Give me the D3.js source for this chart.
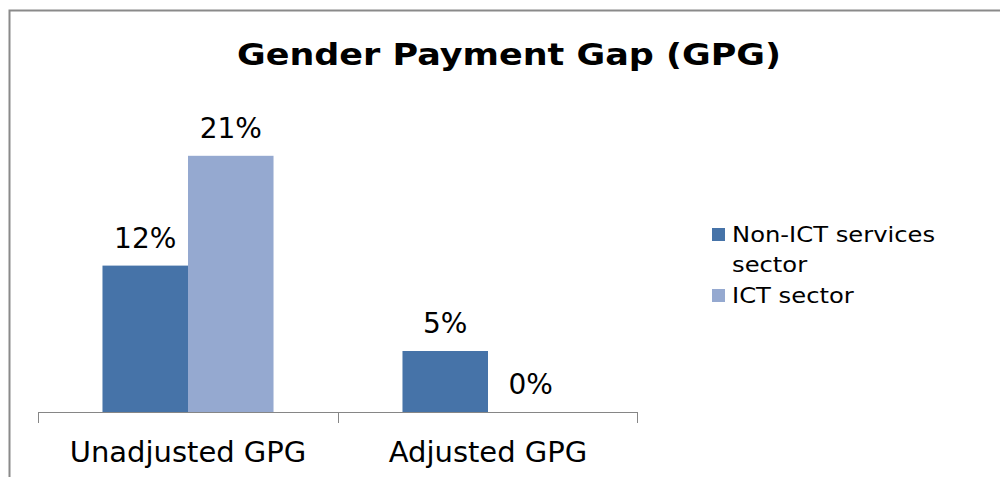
<!DOCTYPE html>
<html>
<head>
<meta charset="utf-8">
<script src="https://cdn.jsdelivr.net/npm/d3@7"></script>
<style>
    html, body { margin: 0; padding: 0; background: #fff; }
    svg { display: block; }
</style>
</head>
<body>
<svg id="viz_gpg"></svg>
<script>
var categories = ["Unadjusted GPG", "Adjusted GPG"];
var series = ["Non-ICT services sector", "ICT sector"];
var non_ict = [12, 5];
var ict = [21, 0];
var legend_lines = [["Non-ICT services", "sector"], ["ICT sector"]];

var width = 1000,
    height = 477,
    blue = "#4673a8",
    light = "#95a9d0",
    colors = [blue, light];

var rows = categories.map(function(c, i) {
    return {"category": c, "values": [non_ict[i], ict[i]]};
});

var svg = d3.select("svg#viz_gpg")
    .attr("width", width)
    .attr("height", height);

// frame (only top and left edges are in the picture)
svg.append("path")
    .attr("d", "M9.5 " + height + " L9.5 10.5 L" + width + " 10.5")
    .attr("fill", "none")
    .attr("stroke", "#8a8a8a")
    .attr("stroke-width", 2);

// title is drawn a little wider than the font, like the original
svg.append("text")
    .attr("x", 509)
    .attr("y", 65)
    .attr("text-anchor", "middle")
    .attr("textLength", 544)
    .attr("lengthAdjust", "spacingAndGlyphs")
    .style("font-family", "'DejaVu Sans', sans-serif")
    .style("font-weight", "bold")
    .style("font-size", "31px")
    .text("Gender Payment Gap (GPG)");

var x0 = d3.scaleBand()
    .domain(categories)
    .range([38, 638])
    .paddingInner(0)
    .paddingOuter(0);

var x1 = d3.scaleBand()
    .domain(series)
    .range([0, x0.bandwidth()])
    .paddingInner(0)
    .paddingOuter(0.754);

var y = d3.scaleLinear()
    .domain([0, 25])
    .range([412, 107]);

var group = svg.selectAll("g.category")
    .data(rows)
    .enter()
    .append("g")
        .attr("class", "category")
        .attr("transform", function(d) {
            return "translate(" + [x0(d.category), 0] + ")";
        });

var bar = group.selectAll("g.bar")
    .data(function(d) {
        return d.values.map(function(v, i) {
            return {"series": series[i], "value": v, "color": colors[i]};
        });
    })
    .enter()
    .append("g")
        .attr("class", "bar");

bar.append("rect")
    .attr("x", function(d) { return x1(d.series); })
    .attr("y", function(d) { return y(d.value); })
    .attr("width", x1.bandwidth())
    .attr("height", function(d) { return y(0) - y(d.value); })
    .attr("fill", function(d) { return d.color; });

bar.append("text")
    .attr("x", function(d) { return x1(d.series) + x1.bandwidth() / 2; })
    .attr("y", function(d) { return y(d.value) - 18; })
    .attr("text-anchor", "middle")
    .style("font-family", "'DejaVu Sans', sans-serif")
    .style("font-size", "28px")
    .style("fill", "#000")
    .text(function(d) { return d.value + "%"; });

// category axis
var axis = svg.append("g")
    .attr("transform", "translate(0," + y(0) + ")");

axis.append("line")
    .attr("x1", 38).attr("x2", 638)
    .attr("y1", 0.5).attr("y2", 0.5)
    .attr("stroke", "#868686");

axis.selectAll("line.sep")
    .data(categories.concat(["end"]))
    .enter()
    .append("line")
        .attr("class", "sep")
        .attr("x1", function(d, i) { return i < categories.length ? x0(d) + 0.5 : x0.range()[1] - 0.5; })
        .attr("x2", function(d, i) { return i < categories.length ? x0(d) + 0.5 : x0.range()[1] - 0.5; })
        .attr("y1", 0)
        .attr("y2", 11)
        .attr("stroke", "#868686");

axis.selectAll("text.cat")
    .data(categories)
    .enter()
    .append("text")
        .attr("class", "cat")
        .attr("x", function(d) { return x0(d) + x0.bandwidth() / 2; })
        .attr("y", 50)
        .attr("text-anchor", "middle")
        .style("font-family", "'DejaVu Sans', sans-serif")
        .style("font-size", "29px")
        .style("fill", "#000")
        .text(function(d) { return d; });

// legend
var legend = svg.append("g")
    .attr("class", "legend")
    .attr("transform", "translate(712,228)");

var item = legend.selectAll("g.item")
    .data(series)
    .enter()
    .append("g")
        .attr("class", "item")
        .attr("transform", function(d, i) {
            return "translate(" + [0, i * 61] + ")";
        });

item.append("rect")
    .attr("width", 13)
    .attr("height", 13)
    .attr("fill", function(d, i) { return colors[i]; });

item.append("text")
    .attr("transform", "translate(20,14) scale(1.155,1)")
    .style("font-family", "'DejaVu Sans', sans-serif")
    .style("font-size", "21px")
    .style("fill", "#000")
    .selectAll("tspan")
    .data(function(d, i) { return legend_lines[i]; })
    .enter()
    .append("tspan")
        .attr("x", 0)
        .attr("dy", function(d, i) { return i ? 30 : 0; })
        .text(function(d) { return d; });
</script>
</body>
</html>
